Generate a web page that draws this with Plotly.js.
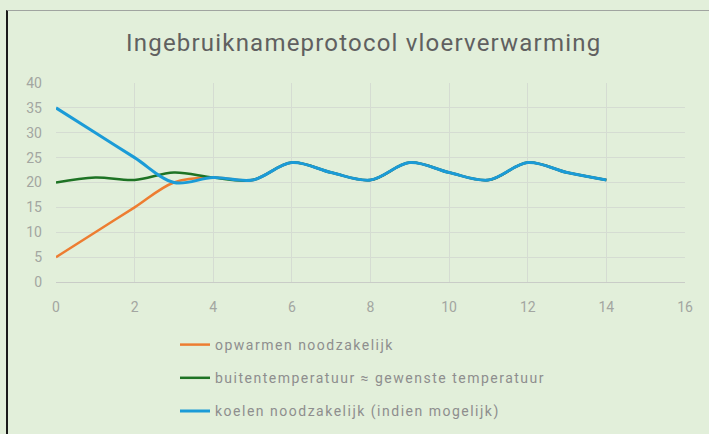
<!DOCTYPE html>
<html>
<head>
<meta charset="utf-8">
<script src="https://cdn.plot.ly/plotly-3.0.1.min.js"></script>
<style>
  html, body { margin: 0; padding: 0; background: #E2EFDA; }
  #frame { position: absolute; left: 6px; top: 10px; width: 703px; height: 424px;
           border-left: 2px solid #1a1a1a; border-top: 1px solid #A0A4A0; box-sizing: border-box; }
  #chart { position: absolute; left: 0; top: 0; width: 709px; height: 434px; }
  .legendtext { letter-spacing: 1.5px; }
  .gtitle { letter-spacing: 1.2px; }
</style>
</head>
<body>
<div id="frame"></div>
<div id="chart"></div>
<script>
const days = [0, 1, 2, 3, 4, 5, 6, 7, 8, 9, 10, 11, 12, 13, 14];
const opwarmen = [5, 10, 15, 20, 21, 20.5, 24, 22, 20.5, 24, 22, 20.5, 24, 22, 20.5];
const buiten = [20, 21, 20.5, 22, 21, 20.5, 24, 22, 20.5, 24, 22, 20.5, 24, 22, 20.5];
const koelen = [35, 30, 25, 20, 21, 20.5, 24, 22, 20.5, 24, 22, 20.5, 24, 22, 20.5];
const seriesNames = ["opwarmen noodzakelijk", "buitentemperatuur \u2248 gewenste temperatuur", "koelen noodzakelijk (indien mogelijk)"];
const titleText = "Ingebruiknameprotocol vloerverwarming";

const colors = ["#ED7D31", "#1E7324", "#1B9BD7"];
const series = [opwarmen, buiten, koelen];
const traces = series.map((ys, i) => ({
  x: days, y: ys, type: "scatter", mode: "lines",
  name: seriesNames[i], legendgroup: "g" + i,
  line: { color: colors[i], width: i === 2 ? 3 : 2.5, shape: "spline", smoothing: 1 }
}));

const tickFont = { family: "Roboto, 'Open Sans', sans-serif", size: 14, color: "#A3A6A1" };
const layout = {
  width: 709, height: 434,
  paper_bgcolor: "rgba(0,0,0,0)", plot_bgcolor: "rgba(0,0,0,0)",
  margin: { l: 56, r: 24, t: 83, b: 152, autoexpand: false },
  title: { text: titleText, x: 0.513, xanchor: "center", y: 0.901, yanchor: "middle",
           font: { family: "Roboto, 'Open Sans', sans-serif", size: 24, color: "#606060" } },
  xaxis: { range: [0, 16], dtick: 2, tick0: 0, showgrid: true, gridcolor: "#D5DCD2", gridwidth: 1,
           zeroline: false, showline: true, linecolor: "#C9CCC7", linewidth: 1,
           ticks: "", tickfont: tickFont, ticklabelstandoff: 12, fixedrange: true, automargin: false },
  yaxis: { range: [0, 40], dtick: 5, tick0: 0, showgrid: true, gridcolor: "#D5DCD2", gridwidth: 1,
           zeroline: false, showline: false, ticks: "", tickfont: tickFont, ticklabelstandoff: 13,
           fixedrange: true, automargin: false },
  showlegend: true,
  legend: { orientation: "v", x: 175 / 709, xref: "container", xanchor: "left",
            y: 1 - 329 / 434, yref: "container", yanchor: "top",
            font: { family: "Roboto, 'Open Sans', sans-serif", size: 14, color: "#8E8E8E" },
            bgcolor: "rgba(0,0,0,0)", tracegroupgap: 12, itemclick: false },
};
Plotly.newPlot("chart", traces, layout, { staticPlot: true, displayModeBar: false });
</script>
</body>
</html>
